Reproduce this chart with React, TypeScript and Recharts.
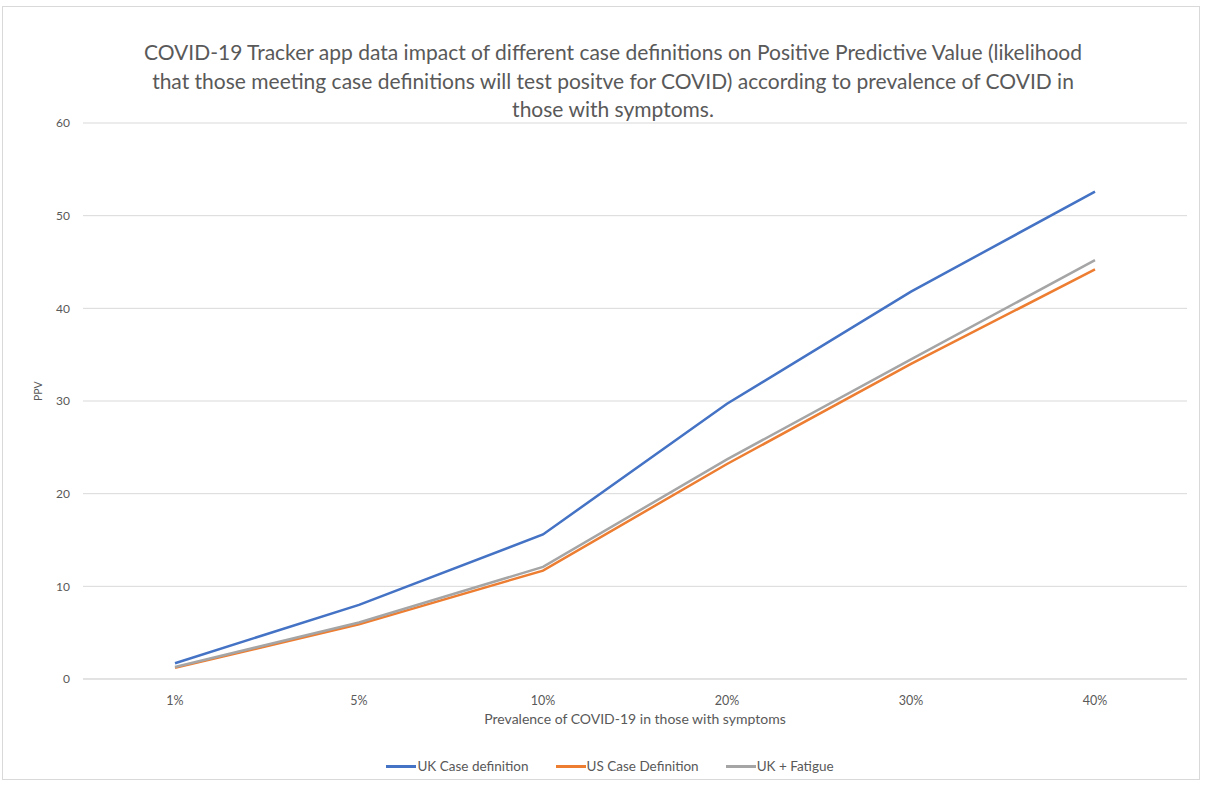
import { LineChart, Line, XAxis, YAxis, CartesianGrid, Legend } from 'recharts';

const prevalence = ['1%', '5%', '10%', '20%', '30%', '40%'];
const ukCase = [1.7, 8.0, 15.6, 29.7, 41.8, 52.6];
const usCase = [1.2, 5.9, 11.7, 23.2, 34.0, 44.2];
const ukFatigue = [1.3, 6.1, 12.1, 23.7, 34.5, 45.2];
const yTicks = [0, 10, 20, 30, 40, 50, 60];
const seriesOrder = ['UK Case definition', 'US Case Definition', 'UK + Fatigue'];

const data = prevalence.map((name, i) => ({
    name,
    uk: ukCase[i],
    us: usCase[i],
    fatigue: ukFatigue[i],
}));

const font = 'Lato, "Open Sans", sans-serif';
const textColor = '#595959';

const LegendContent = (props: any) => {
    const items = [...(props.payload || [])].sort(
        (a: any, b: any) => seriesOrder.indexOf(a.value) - seriesOrder.indexOf(b.value)
    );
    return (
        <div style={{ display: 'flex', justifyContent: 'center', gap: 27, fontFamily: font, fontSize: 13.5, color: textColor }}>
            {items.map((p: any) => (
                <div key={p.value} style={{ display: 'flex', alignItems: 'center' }}>
                    <span style={{ display: 'inline-block', width: 30, height: 3, background: p.color, marginRight: 1 }} />
                    <span>{p.value}</span>
                </div>
            ))}
        </div>
    );
};

export default function App() {
    return (
        <div style={{ position: 'absolute', left: 0, top: 0, width: 1205, height: 785, background: '#fff' }}>
            <div style={{
                position: 'absolute', left: 2, top: 6, width: 1198, height: 774,
                border: '1px solid #d9d9d9', boxSizing: 'border-box',
            }} />
            <div style={{
                position: 'absolute', left: 0, top: 38, width: 1226, textAlign: 'center',
                fontFamily: font, fontSize: 21, lineHeight: '28.5px', color: textColor,
            }}>
                COVID-19 Tracker app data impact of different case definitions on Positive Predictive Value (likelihood<br />
                that those meeting case definitions will test positve for COVID) according to prevalence of COVID in<br />
                those with symptoms.
            </div>
            <LineChart
                width={1205}
                height={785}
                data={data}
                margin={{ top: 123, right: 18, left: 33, bottom: 60 }}
                style={{ position: 'absolute', left: 0, top: 0 }}
            >
                <CartesianGrid vertical={false} stroke="#d9d9d9" />
                <XAxis
                    dataKey="name"
                    padding={{ left: 92, right: 92 }}
                    axisLine={{ stroke: '#d9d9d9' }}
                    tickLine={false}
                    tickSize={0}
                    tickMargin={17}
                    tick={{ fill: textColor, fontSize: 12.5, fontFamily: font }}
                    label={{ value: 'Prevalence of COVID-19 in those with symptoms', position: 'insideBottom', offset: -15, fill: textColor, fontSize: 14, fontFamily: font }}
                />
                <YAxis
                    width={50}
                    domain={[0, 60]}
                    ticks={yTicks}
                    axisLine={false}
                    tickLine={false}
                    tickSize={0}
                    tickMargin={13}
                    tick={{ fill: textColor, fontSize: 12, fontFamily: font }}
                    label={{ value: 'PPV', angle: -90, position: 'insideLeft', offset: 0, dx: 5, fill: textColor, fontSize: 10.5, fontFamily: font }}
                />
                <Legend
                    verticalAlign="bottom"
                    content={<LegendContent />}
                    wrapperStyle={{ bottom: 11 }}
                />
                <Line name="UK Case definition" dataKey="uk" stroke="#4472c4" strokeWidth={2.5} dot={false} isAnimationActive={false} />
                <Line name="US Case Definition" dataKey="us" stroke="#ed7d31" strokeWidth={2.5} dot={false} isAnimationActive={false} />
                <Line name="UK + Fatigue" dataKey="fatigue" stroke="#a5a5a5" strokeWidth={2.5} dot={false} isAnimationActive={false} />
            </LineChart>
        </div>
    );
}
